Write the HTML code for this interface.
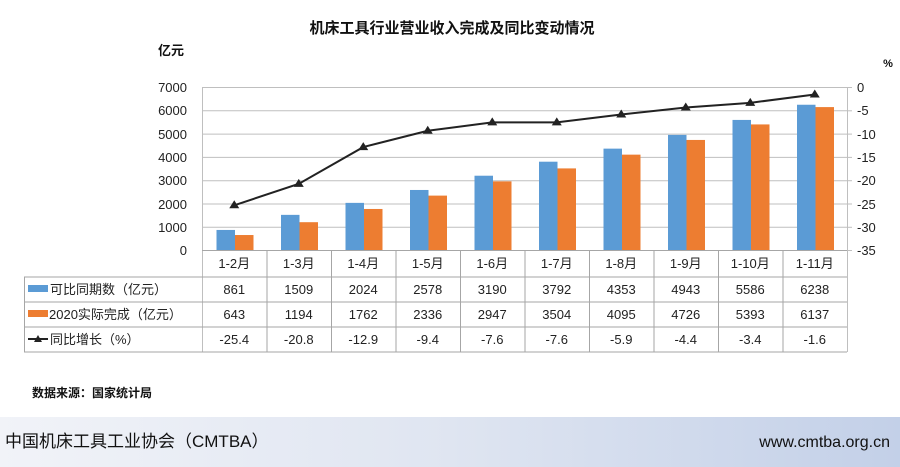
<!DOCTYPE html>
<html><head><meta charset="utf-8"><style>
body{margin:0;background:#fff}
svg{display:block}
text{font-family:"Liberation Sans","Noto Sans CJK SC",sans-serif}
</style></head><body>
<svg width="900" height="467" viewBox="0 0 900 467" xmlns="http://www.w3.org/2000/svg">
<defs><linearGradient id="g" x1="0" x2="1" y1="0" y2="0"><stop offset="0" stop-color="#f1f3f8"/><stop offset="0.5" stop-color="#dfe5f1"/><stop offset="1" stop-color="#c3d0e8"/></linearGradient></defs>
<text x="452" y="33" font-size="15" font-weight="bold" text-anchor="middle" fill="#111">机床工具行业营业收入完成及同比变动情况</text>
<text x="171" y="55" font-size="13" font-weight="bold" text-anchor="middle" fill="#111">亿元</text>
<text x="888" y="67" font-size="11" font-weight="bold" text-anchor="middle" fill="#111">%</text>
<g stroke="#bfbfbf" stroke-width="1">
<line x1="202" x2="847" y1="87.5" y2="87.5"/><line x1="202" x2="847" y1="110.8" y2="110.8"/><line x1="202" x2="847" y1="134.1" y2="134.1"/><line x1="202" x2="847" y1="157.4" y2="157.4"/><line x1="202" x2="847" y1="180.7" y2="180.7"/><line x1="202" x2="847" y1="204" y2="204"/><line x1="202" x2="847" y1="227.3" y2="227.3"/>
<line x1="202.5" x2="202.5" y1="87" y2="352"/><line x1="847.5" x2="847.5" y1="87" y2="352"/>
<line x1="847" x2="852" y1="87.5" y2="87.5"/><line x1="847" x2="852" y1="110.8" y2="110.8"/><line x1="847" x2="852" y1="134.1" y2="134.1"/><line x1="847" x2="852" y1="157.4" y2="157.4"/><line x1="847" x2="852" y1="180.7" y2="180.7"/><line x1="847" x2="852" y1="204" y2="204"/><line x1="847" x2="852" y1="227.3" y2="227.3"/><line x1="847" x2="852" y1="250.5" y2="250.5"/>
</g>
<g font-size="13" fill="#222" text-anchor="end">
<text x="187" y="92">7000</text><text x="187" y="115">6000</text><text x="187" y="139">5000</text><text x="187" y="162">4000</text><text x="187" y="185">3000</text><text x="187" y="209">2000</text><text x="187" y="232">1000</text><text x="187" y="255">0</text>
</g>
<g font-size="13" fill="#222" text-anchor="start">
<text x="857" y="92">0</text><text x="857" y="115">-5</text><text x="857" y="139">-10</text><text x="857" y="162">-15</text><text x="857" y="185">-20</text><text x="857" y="209">-25</text><text x="857" y="232">-30</text><text x="857" y="255">-35</text>
</g>
<g id="bars"></g>
<g id="tbl" stroke="#a6a6a6" stroke-width="1" fill="none"></g>
<g id="txt" font-size="13" fill="#222" text-anchor="middle"></g>
<rect x="28" y="285" width="20" height="7" fill="#5b9bd5"/>
<rect x="28" y="310" width="20" height="7" fill="#ed7d31"/>
<line x1="28" x2="48" y1="339" y2="339" stroke="#222" stroke-width="2"/>
<polygon points="38,335 42,342 34,342" fill="#222"/>
<g font-size="13" fill="#222">
<text x="50" y="294">可比同期数（亿元）</text>
<text x="49" y="319">2020实际完成（亿元）</text>
<text x="50" y="344">同比增长（%）</text>
</g>
<polyline id="ln" fill="none" stroke="#222" stroke-width="2"/>
<g id="mk" fill="#222"></g>
<text x="32" y="397" font-size="12" font-weight="bold" fill="#111">数据来源：国家统计局</text>
<rect x="0" y="417" width="900" height="50" fill="url(#g)"/>
<text x="5" y="447" font-size="17" fill="#111">中国机床工具工业协会（CMTBA）</text>
<text x="890" y="447" font-size="16" fill="#111" text-anchor="end">www.cmtba.org.cn</text>
</svg>
<script>
var a=[861,1509,2024,2578,3190,3792,4353,4943,5586,6238],b=[643,1194,1762,2336,2947,3504,4095,4726,5393,6137],p=[-25.4,-20.8,-12.9,-9.4,-7.6,-7.6,-5.9,-4.4,-3.4,-1.6];
var ns="http://www.w3.org/2000/svg",w=64.5,x0=202,y0=250,k=163/7000;
function el(t,at,par,tx){var e=document.createElementNS(ns,t);for(var q in at)e.setAttribute(q,at[q]);if(tx!=null)e.textContent=tx;document.getElementById(par).appendChild(e);return e;}
var pts=[];
for(var i=0;i<10;i++){var cx=x0+w*i;
el('rect',{x:cx+14.5,y:y0-a[i]*k,width:18.5,height:a[i]*k,fill:'#5b9bd5'},'bars');
el('rect',{x:cx+33,y:y0-b[i]*k,width:18.5,height:b[i]*k,fill:'#ed7d31'},'bars');
var m=cx+w/2,py=87+(-p[i])*163/35;pts.push(m+','+py);
el('polygon',{points:m+','+(py-5)+' '+(m+5)+','+(py+3)+' '+(m-5)+','+(py+3)},'mk');
el('text',{x:m,y:268},'txt',(i==0?'1-2月':'1-'+(i+2)+'月'));
el('text',{x:m,y:294},'txt',a[i]);el('text',{x:m,y:319},'txt',b[i]);el('text',{x:m,y:344},'txt',p[i].toFixed(1));
if(i>0)el('line',{x1:cx+.5,x2:cx+.5,y1:250,y2:352},'tbl');}
document.getElementById('ln').setAttribute('points',pts.join(' '));
[250.5,277,302,327,352].forEach(function(y,j){el('line',{x1:j==0?202:24,x2:847,y1:y,y2:y},'tbl');});
el('line',{x1:24.5,x2:24.5,y1:277,y2:352},'tbl');
</script>
</body></html>
